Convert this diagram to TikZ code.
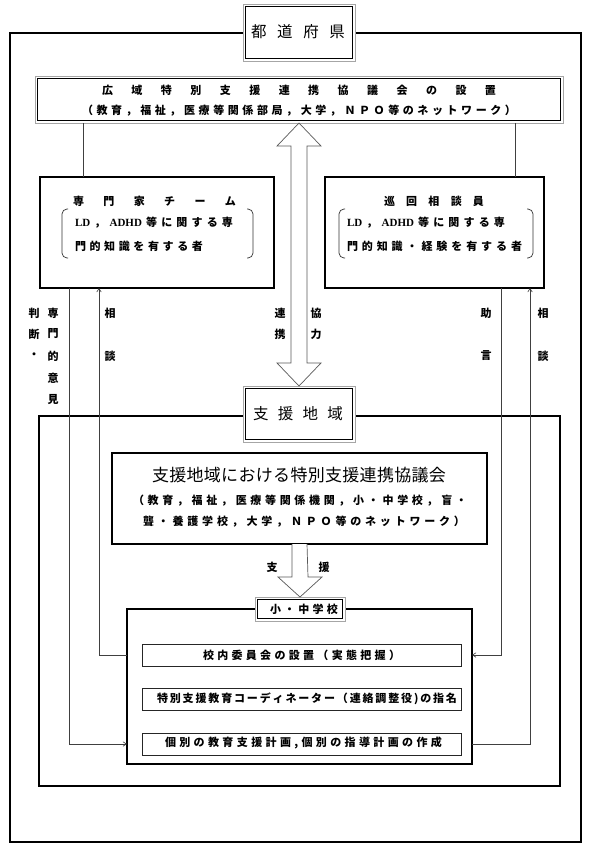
\documentclass[tikz,border=0pt]{standalone}
\usepackage{fontspec}
\setmainfont{Noto Sans CJK JP}
\newfontfamily\lat{Liberation Serif}
\usetikzlibrary{arrows.meta,calc}
\makeatletter
\newcommand\spreadtxt[2]{\makebox[#1][s]{\def\sp@sep{}\@tfor\sp@c:=#2\do{\sp@sep\sp@c\def\sp@sep{\hfil}}}}
\makeatother
\tikzset{
  every node/.style={inner sep=0pt, outer sep=0pt},
  thickbox/.style={draw=black, line width=1.5pt, fill=white},
  midbox/.style={draw=black!85, line width=1pt, fill=white},
  dblbox/.style={draw=gray!70, line width=0.7pt, fill=white},
  dblin/.style={draw=black, line width=1.1pt},
  conn/.style={draw=black!75, line width=0.6pt},
  arr/.style={-{Straight Barb[length=3.5pt,width=4.5pt]}},
  hollow/.style={draw=black!65, line width=0.7pt, fill=white, line join=miter},
  sm/.style={font=\fontsize{11}{12}\selectfont\bfseries},
  big/.style={font=\fontsize{15.5}{17}\selectfont},
  brk/.style={draw=black!80, line width=0.7pt, rounded corners=5pt}
}
\begin{document}
\begin{tikzpicture}[x=1pt,y=-1pt]
\useasboundingbox (0,0) rectangle (592,849);
\fill[white] (0,0) rectangle (592,849);

% outer frames
\node[thickbox, minimum width=571, minimum height=809, anchor=north west] (outer) at (10,33) {};
\node[thickbox, minimum width=521, minimum height=370, anchor=north west] (region) at (39,416) {};

% top boxes
\node[dblbox, minimum width=112, minimum height=57, anchor=north west] (todo) at (243,4) {};
\node[dblbox, minimum width=528, minimum height=47, anchor=north west] (koiki) at (35,76) {};
\node[thickbox, minimum width=234, minimum height=111, anchor=north west] (senmon) at (40,177) {};
\node[thickbox, minimum width=219, minimum height=111, anchor=north west] (junkai) at (325,177) {};

% region boxes
\node[dblbox, minimum width=112, minimum height=56, anchor=north west] (chiiki) at (243,386) {};
\node[thickbox, minimum width=375, minimum height=91, anchor=north west] (kyogi) at (112,453) {};
\node[thickbox, minimum width=345, minimum height=155, anchor=north west] (school) at (127,609) {};
\node[dblbox, minimum width=90, minimum height=24, anchor=north west] (label) at (255,597) {};
\node[midbox, minimum width=319, minimum height=22, anchor=north west] (b1) at (142,644) {};
\node[midbox, minimum width=319, minimum height=22, anchor=north west] (b2) at (142,688) {};
\node[midbox, minimum width=319, minimum height=22, anchor=north west] (b3) at (142,733) {};

% inner lines of double boxes
\foreach \n in {todo,koiki,chiiki,label}
  \draw[dblin] ([shift={(2.5,2.5)}]\n.north west) rectangle ([shift={(-2.5,-2.5)}]\n.south east);

% hollow arrows
\draw[hollow] (koiki.south) -- ++(22,23) -- ++(-14,0) -- ++(0,217) -- ++(14,0) -- (chiiki.north)
  -- ++(-22,-23) -- ++(14,0) -- ++(0,-217) -- ++(-14,0) -- cycle;
\draw[hollow] ([xshift=-7.5pt]kyogi.south) -- ++(0,33) -- ++(-14,0) -- (label.north)
  -- ++(22,-20) -- ++(-14,0) -- ([xshift=7.5pt]kyogi.south);

% connectors
\coordinate (xA) at (69,0);
\coordinate (xB) at (99,0);
\coordinate (xC) at (501,0);
\coordinate (xD) at (530,0);
\coordinate (xE) at (83,0);
\coordinate (xF) at (515,0);
\draw[conn] (koiki.south -| xE) -- (senmon.north -| xE);
\draw[conn] (koiki.south -| xF) -- (junkai.north -| xF);
\draw[conn,arr] (senmon.south -| xA) |- (school.west |- b3.west);
\draw[conn,arr] (school.west |- b1.west) -| (senmon.south -| xB);
\draw[conn,arr] (junkai.south -| xC) |- (school.east |- b1.east);
\draw[conn,arr] (school.east |- b3.east) -| (junkai.south -| xD);

% texts
\node[big] (t-todo) at (298,32) {\spreadtxt{94pt}{都道府県}};
\node[sm] (t-k1) at (299,90) {\spreadtxt{394pt}{広域特別支援連携協議会の設置}};
\node[sm] (t-k2) at (299,111) {\spreadtxt{434pt}{（教育，福祉，医療等関係部局，大学，ＮＰＯ等のネットワーク）}};

\node[sm] (t-s1) at (154.5,201) {\spreadtxt{163pt}{専門家チーム}};
\node[sm] (t-s2) at (154,223) {\spreadtxt{158pt}{{{\lat LD}}，{{\lat ADHD}}等に関する専}};
\node[sm, anchor=west] (t-s3) at (75,246) {\spreadtxt{128pt}{門的知識を有する者}};
\draw[brk] (68,209) -- (62,209) -- (62,258) -- (68,258);
\draw[brk] (247,209) -- (253,209) -- (253,258) -- (247,258);

\node[sm] (t-j1) at (434,201) {\spreadtxt{100pt}{巡回相談員}};
\node[sm] (t-j2) at (426,223) {\spreadtxt{158pt}{{{\lat LD}}，{{\lat ADHD}}等に関する専}};
\node[sm] (t-j3) at (434.5,246) {\spreadtxt{175pt}{門的知識・経験を有する者}};
\draw[brk] (345,209) -- (339,209) -- (339,258) -- (345,258);
\draw[brk] (527,209) -- (533,209) -- (533,258) -- (527,258);

\node[big] (t-chiiki) at (298,414) {\spreadtxt{90pt}{支援地域}};
\node[font=\fontsize{17}{19}\selectfont] (t-g1) at (299,475) {\spreadtxt{294pt}{支援地域における特別支援連携協議会}};
\node[sm] (t-g2) at (300,501) {\spreadtxt{334pt}{（教育，福祉，医療等関係機関，小・中学校，盲・}};
\node[sm] (t-g3) at (304,522) {\spreadtxt{322pt}{聾・養護学校，大学，ＮＰＯ等のネットワーク）}};

\node[sm] (t-label) at (304,609) {\spreadtxt{68pt}{小・中学校}};
\node[sm] (t-b1) at (301.5,655) {\spreadtxt{197pt}{校内委員会の設置（実態把握）}};
\node[sm] (t-b2) at (307,699) {\spreadtxt{300pt}{特別支援教育コーディネーター（連絡調整役{)}の指名}};
\node[sm] (t-b3) at (303.5,743) {\spreadtxt{277pt}{個別の教育支援計画{,}個別の指導計画の作成}};

% vertical labels
\node[sm] (v1) at (34,313) {判};
\node[sm] (v2) at (34,334) {断};
\node[sm] (v3) at (34,356) {・};
\node[sm] (v4) at (53,313) {専};
\node[sm] (v5) at (53,334) {門};
\node[sm] (v6) at (53,356) {的};
\node[sm] (v7) at (53,378) {意};
\node[sm] (v8) at (53,400) {見};
\node[sm] (v9) at (110,313) {相};
\node[sm] (v10) at (110,356) {談};
\node[sm] (v11) at (280,313) {連};
\node[sm] (v12) at (280,334) {携};
\node[sm] (v13) at (316,313) {協};
\node[sm] (v14) at (316,334) {力};
\node[sm] (v15) at (486,313) {助};
\node[sm] (v16) at (486,356) {言};
\node[sm] (v17) at (543,313) {相};
\node[sm] (v18) at (543,356) {談};
\node[sm] (v19) at (272,567) {支};
\node[sm] (v20) at (324,567) {援};
\end{tikzpicture}
\end{document}
